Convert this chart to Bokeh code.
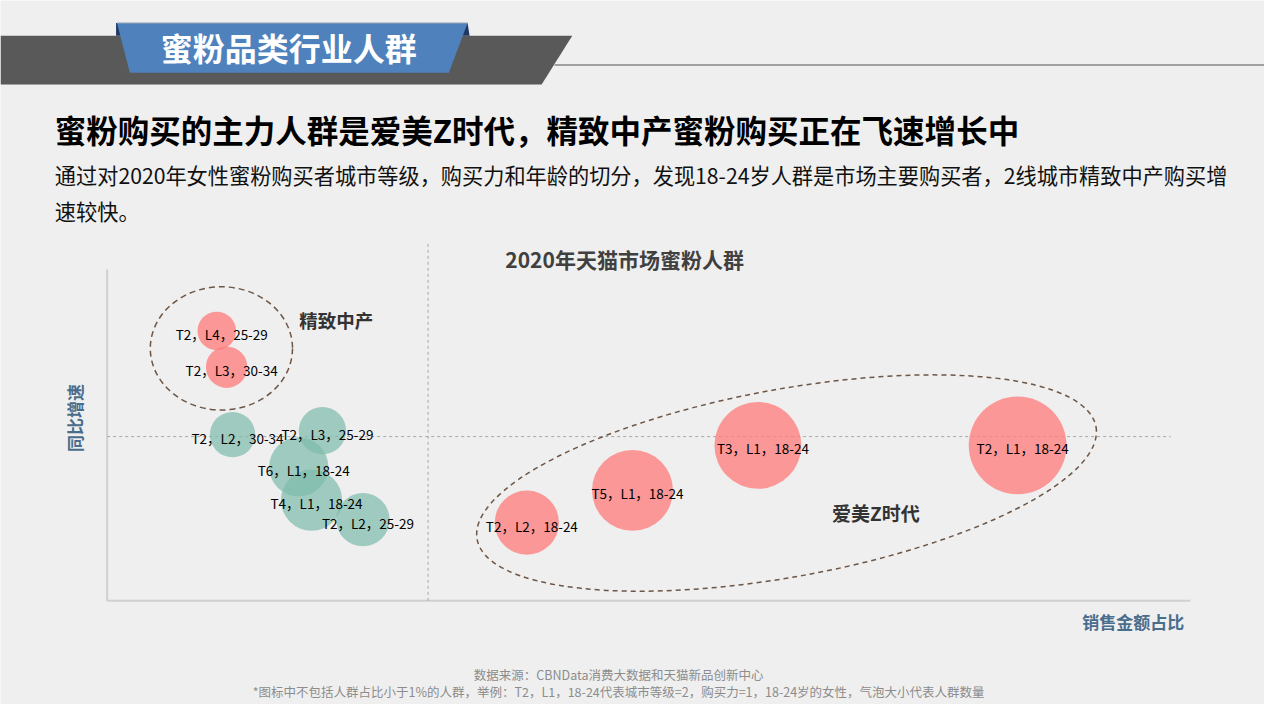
import math
from bokeh.plotting import figure
from bokeh.models import Range1d
from bokeh.core.properties import value
from bokeh.embed import file_html
from bokeh.resources import INLINE

# ---------------- data ----------------
labels = ["T2，L4，25-29", "T2，L3，30-34", "T2，L2，30-34", "T2，L3，25-29",
          "T6，L1，18-24", "T4，L1，18-24", "T2，L2，25-29",
          "T2，L2，18-24", "T5，L1，18-24", "T3，L1，18-24", "T2，L1，18-24"]
share = [1.11, 1.21, 1.27, 2.18, 1.94, 2.07, 2.59, 4.25, 5.32, 6.59, 9.22]      # 销售金额占比
growth = [2.76, 2.39, 1.70, 1.74, 1.37, 1.03, 0.83, 0.80, 1.13, 1.59, 1.59]    # 同比增速
size = [0.195, 0.21, 0.23, 0.24, 0.30, 0.31, 0.27, 0.325, 0.41, 0.44, 0.495]   # 人群数量(气泡半径)
segment = ["精致中产", "精致中产", "其他", "其他", "其他", "其他", "其他",
           "爱美Z时代", "爱美Z时代", "爱美Z时代", "爱美Z时代"]
avg_share = 3.25
avg_growth = 1.68
share_max = 10.97
growth_max = 3.39

FONT = value("Noto Sans CJK SC")
BG = "#efefef"

p = figure(width=1264, height=704, x_range=Range1d(0, 1280), y_range=Range1d(720, 0),
           output_backend="svg", toolbar_location=None, min_border=0,
           x_axis_location=None, y_axis_location=None,
           background_fill_color=BG, border_fill_color=BG, outline_line_color=None)
p.grid.visible = False
# data ranges: origin at the plot corner, 100 page-px per unit
p.extra_x_ranges = {"dx": Range1d(-1.08, 11.72)}
p.extra_y_ranges = {"dy": Range1d(-1.06, 6.14)}

# ---------------- header ----------------
p.patch([0, 579, 548, 0], [36, 36, 86, 86], fill_color="#595959", line_color=None)
p.line([561, 1280], [66, 66], line_color="#a0a0a0", line_width=2)
p.patch([117, 123, 124, 117], [23, 23, 36, 36], fill_color="#1f3864", line_color=None)
p.patch([466, 473, 475, 467], [23, 23, 36, 36], fill_color="#1f3864", line_color=None)
p.patch([118, 473, 454, 131], [23, 23, 74, 74], fill_color="#4f81bd", line_color=None)
p.line([118, 473], [23, 23], line_color="#9aa6b4", line_width=1)
p.text(x=[292], y=[48], text=["蜜粉品类行业人群"], text_font=FONT, text_font_style="bold",
       text_font_size="32px", text_color="white", text_align="center", text_baseline="middle")

p.text(x=[55], y=[131], text=["蜜粉购买的主力人群是爱美Z时代，精致中产蜜粉购买正在飞速增长中"],
       text_font=FONT, text_font_style="bold", text_font_size="31.5px", text_color="black",
       text_align="left", text_baseline="middle")
p.text(x=[55, 55], y=[178, 215],
       text=["通过对2020年女性蜜粉购买者城市等级，购买力和年龄的切分，发现18-24岁人群是市场主要购买者，2线城市精致中产购买增",
             "速较快。"],
       text_font=FONT, text_font_size="21.2px", text_color="#111111",
       text_align="left", text_baseline="middle")

# ---------------- chart ----------------
R = dict(x_range_name="dx", y_range_name="dy")
p.line([0, 0], [0, growth_max], line_color="#d0d0d0", line_width=2, **R)
p.line([0, share_max], [0, 0], line_color="#d0d0d0", line_width=2, **R)
p.line([avg_share, avg_share], [0, 3.66], line_color="#a8a8a8", line_width=1, line_dash="3 3", **R)
p.line([0, 10.77], [avg_growth, avg_growth], line_color="#a8a8a8", line_width=1, line_dash="3 3", **R)

red_idx = [i for i, s in enumerate(segment) if s != "其他"]
green_idx = [i for i, s in enumerate(segment) if s == "其他"]
p.circle(x=[share[i] for i in green_idx], y=[growth[i] for i in green_idx],
         radius=[size[i] for i in green_idx], fill_color="#7dbbab", fill_alpha=0.7,
         line_color=None, **R)
p.circle(x=[share[i] for i in red_idx], y=[growth[i] for i in red_idx],
         radius=[size[i] for i in red_idx], fill_color="#ff7b7b", fill_alpha=0.76,
         line_color=None, **R)
p.text(x=share, y=growth, text=labels, text_font=FONT, text_font_size="13.5px",
       text_color="black", text_align="center", text_baseline="middle",
       x_offset=5, y_offset=3, **R)

# group outlines
p.ellipse(x=[1.157], y=[2.582], width=1.44, height=1.26, fill_color=None,
          line_color="#6d5646", line_width=1.5, line_dash="6 4", **R)
p.ellipse(x=[6.88], y=[1.205], width=6.37, height=1.92, angle=0.18, fill_color=None,
          line_color="#6d5646", line_width=1.5, line_dash="5 4", **R)

p.text(x=[2.32], y=[2.875], text=["精致中产"], text_font=FONT,
       text_font_style="bold", text_font_size="18.5px", text_color="#333333",
       text_align="center", text_baseline="middle", **R)
p.text(x=[7.785], y=[0.90], text=["爱美Z时代"], text_font=FONT,
       text_font_style="bold", text_font_size="19px", text_color="#333333",
       text_align="center", text_baseline="middle", **R)

p.text(x=[632], y=[264], text=["2020年天猫市场蜜粉人群"], text_font=FONT, text_font_style="bold",
       text_font_size="21px", text_color="#404040", text_align="center", text_baseline="middle")
p.text(x=[1147], y=[635], text=["销售金额占比"], text_font=FONT, text_font_style="bold",
       text_font_size="17px", text_color="#4a6d8c", text_align="center", text_baseline="middle")
p.text(x=[75], y=[427], text=["同比增速"], text_font=FONT, text_font_style="bold",
       text_font_size="17px", text_color="#4a6d8c", text_align="center", text_baseline="middle",
       angle=math.pi / 2)

# footer
p.text(x=[626, 626], y=[689, 707],
       text=["数据来源：CBNData消费大数据和天猫新品创新中心",
             "*图标中不包括人群占比小于1%的人群，举例：T2，L1，18-24代表城市等级=2，购买力=1，18-24岁的女性，气泡大小代表人群数量"],
       text_font=FONT, text_font_size="12.5px", text_color="#8c8c8c",
       text_align="center", text_baseline="middle")

open("out.html", "w").write(file_html(p, INLINE))
